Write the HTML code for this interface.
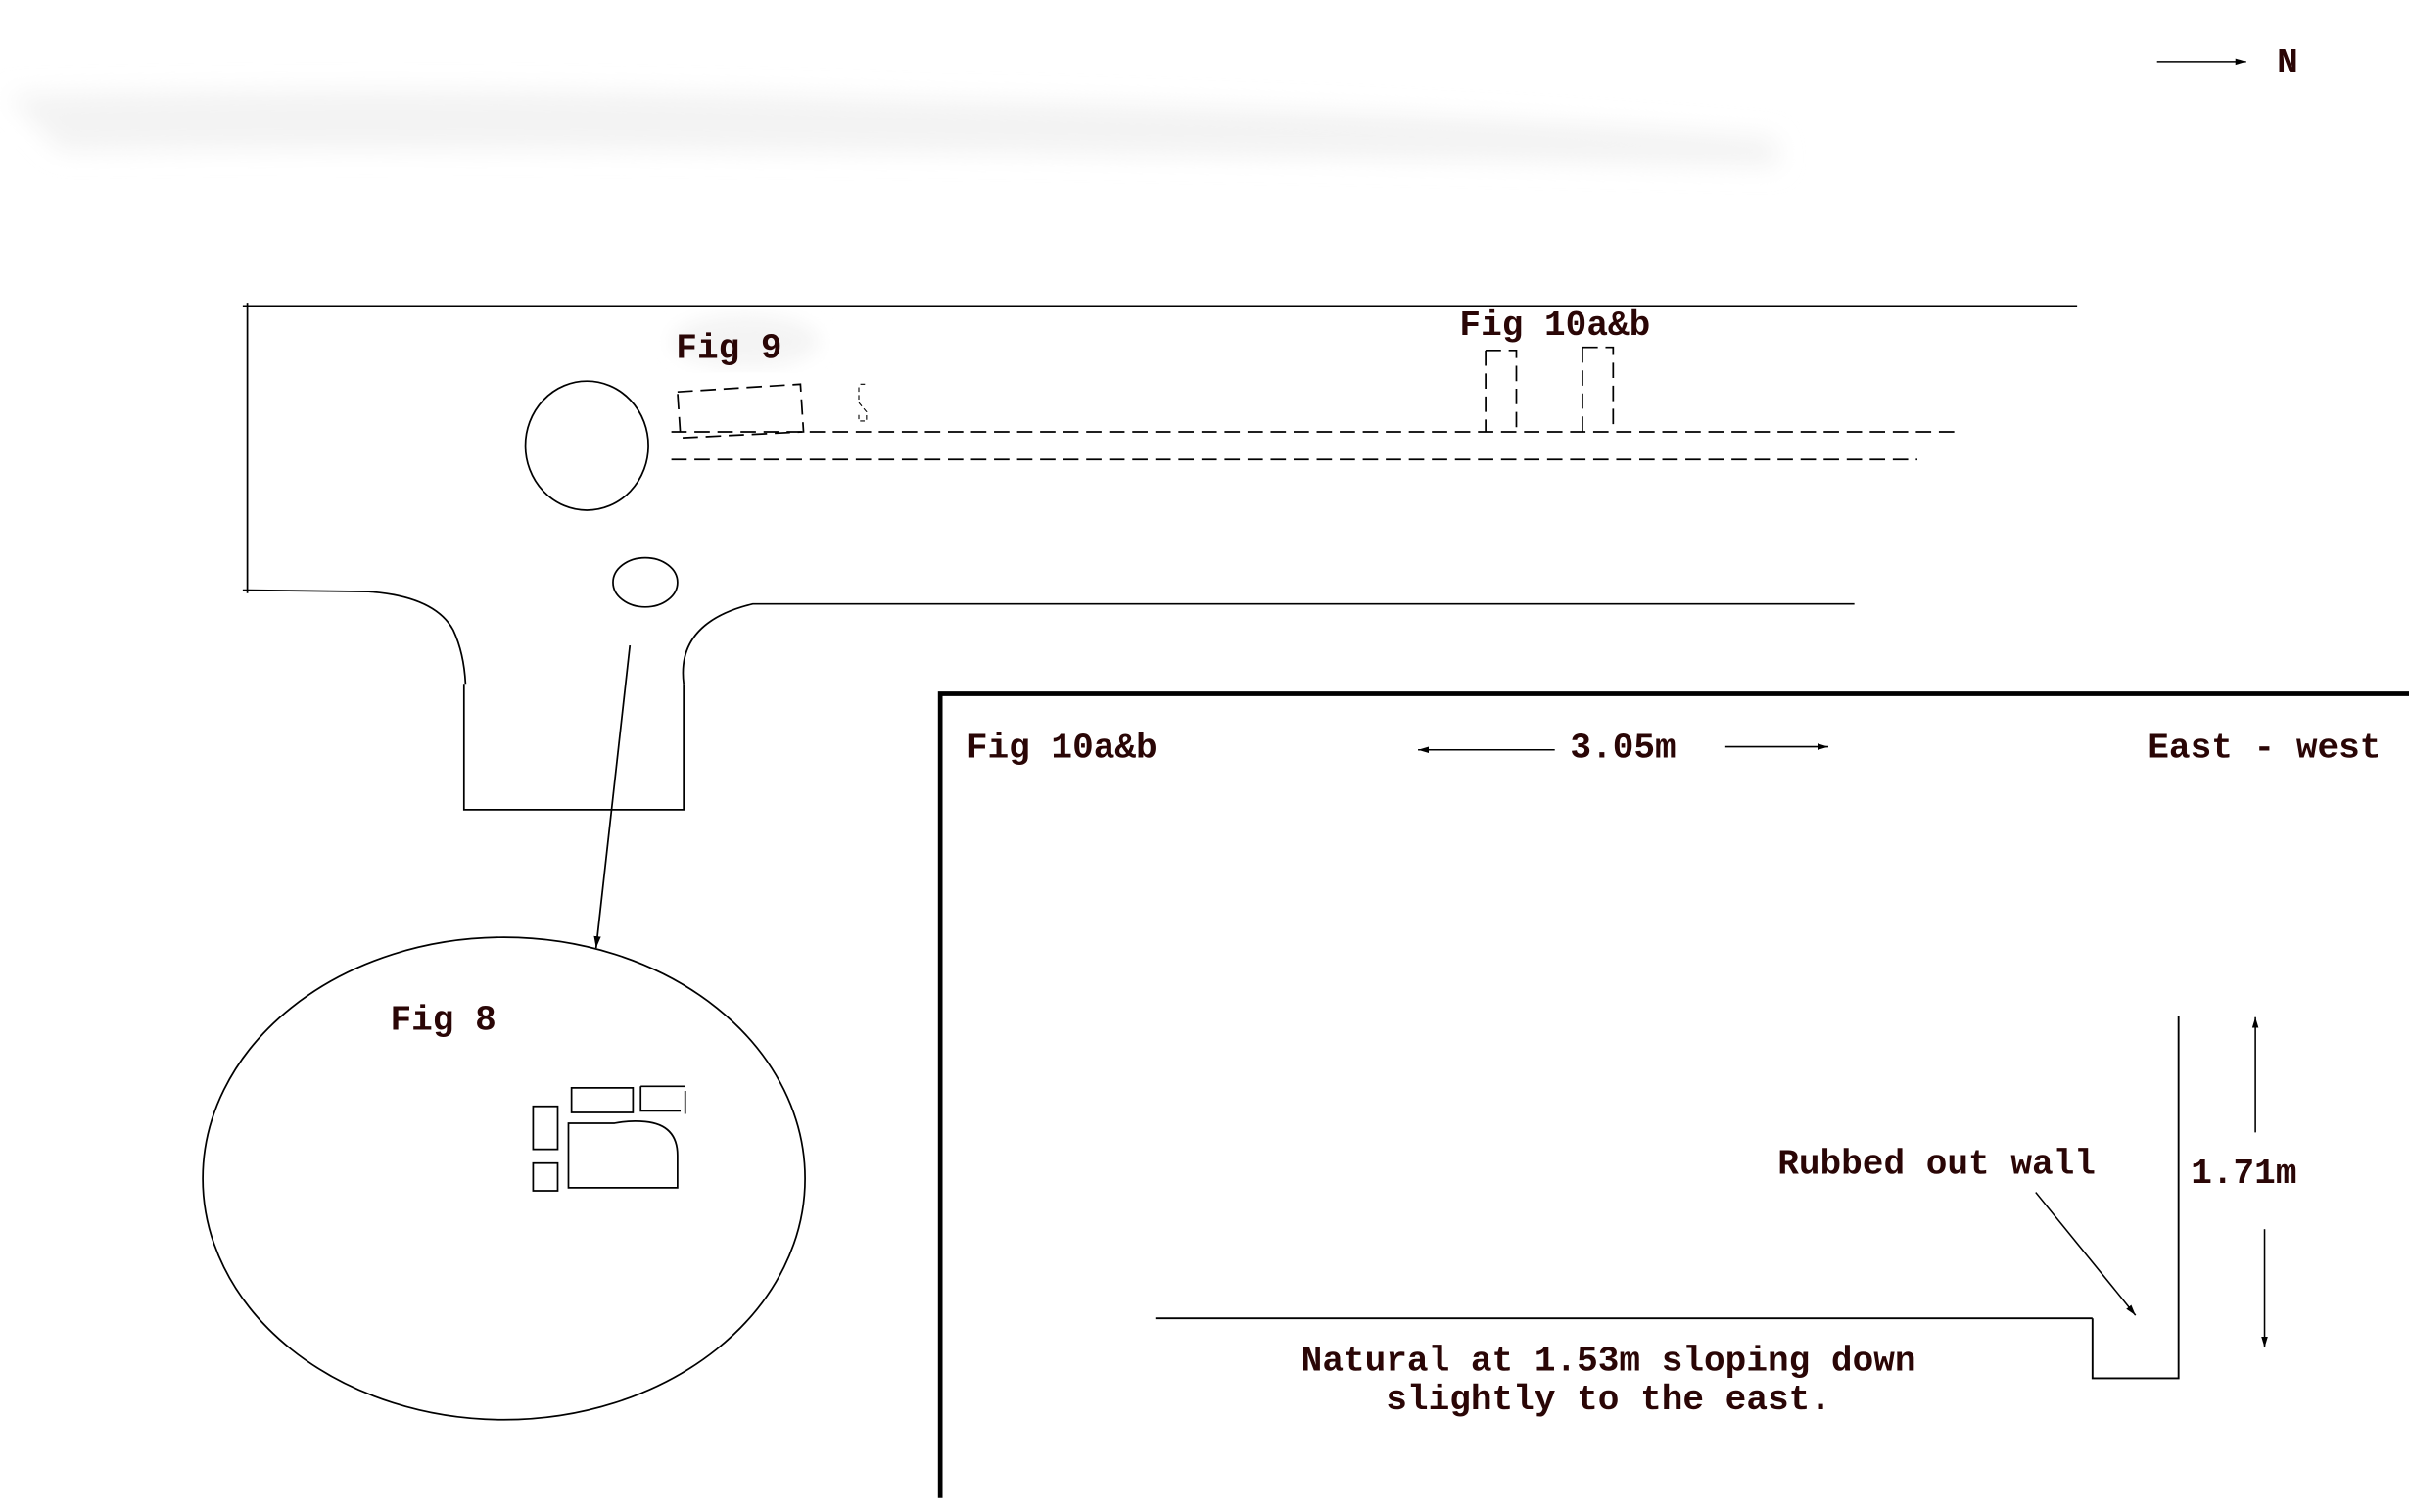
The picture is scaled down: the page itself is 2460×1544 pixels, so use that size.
<!DOCTYPE html>
<html><head><style>
html,body{margin:0;padding:0;background:#fff;}
svg{display:block;}
text{font-family:"Liberation Mono",monospace;font-weight:bold;fill:#2a0606;font-size:23px;}
</style></head><body>
<svg width="2460" height="1544" viewBox="0 0 1568 984" xmlns="http://www.w3.org/2000/svg">
<defs>
<filter id="b" x="-20%" y="-200%" width="140%" height="500%"><feGaussianBlur stdDeviation="8"/></filter>
<filter id="b2"><feGaussianBlur stdDeviation="6"/></filter>
<marker id="ah" viewBox="0 0 10 10" refX="10" refY="5" markerWidth="7" markerHeight="7" orient="auto-start-reverse"><path d="M0,2 L10,5 L0,8 z" fill="#000"/></marker>
</defs>
<path d="M5,62 Q300,55 600,65 Q900,70 1155,90 L1158,108 Q800,100 500,98 Q200,95 40,98 Z" fill="#f3f3f3" filter="url(#b)"/>
<line x1="1404" y1="40" x2="1462" y2="40" stroke="#000" stroke-width="1" marker-end="url(#ah)"/>
<text x="1482" y="47">N</text>

<g fill="none" stroke="#000" stroke-width="1.1">
<line x1="158" y1="199" x2="1352" y2="199"/>
<line x1="161" y1="197" x2="161" y2="386"/>
<path d="M158,384 L240,385 Q283,388 295,410 Q302,425 303,445"/>
<path d="M302,445 L302,527 L445,527 L445,445"/>
<path d="M445,445 Q440,405 490,393 L1207,393"/>
<ellipse cx="382" cy="290" rx="40" ry="42"/>
<ellipse cx="420" cy="379" rx="21" ry="16"/>
<line x1="410" y1="420" x2="388" y2="617" marker-end="url(#ah)"/>
<ellipse cx="328" cy="767" rx="196" ry="157"/>
<path d="M372,708 H412 V724 H372 Z"/>
<path d="M417,707 H446 M417,707 V723 H443 M446,710 V725"/>
<path d="M347,720 V748 H363 V720 Z"/>
<path d="M347,757 V775 H363 V757 Z"/>
<path d="M370,731 V773 H441 V752 Q441,732 420,730 Q410,729 400,731 Z"/>
<g stroke-dasharray="10,5">
<line x1="437" y1="281" x2="1273" y2="281"/>
<line x1="437" y1="299" x2="1248" y2="299"/>
<path d="M441,255 L521,250 L523,281 L443,285 Z"/>
<path d="M967,228 H987 V281 M967,228 V281"/>
<path d="M1030,226 H1050 V281 M1030,226 V281"/>
</g>
<path d="M560,250 h4 M559,252 v10 l5,6 v6 h-5 v-4" stroke-width="0.7" stroke-dasharray="3,2"/>
</g>
<ellipse cx="485" cy="222" rx="48" ry="17" fill="#f4f4f4" filter="url(#b2)"/>
<text x="440" y="233">Fig 9</text>
<text x="950" y="218">Fig 10a&amp;b</text>
<text x="254" y="670">Fig 8</text>

<path d="M612,975 V451.5 H1568" fill="none" stroke="#000" stroke-width="3"/>
<text x="629" y="493">Fig 10a&amp;b</text>
<text x="1022" y="493">3.05m</text>
<text x="1398" y="493">East - west</text>
<g fill="none" stroke="#000" stroke-width="1">
<line x1="1012" y1="488" x2="923" y2="488" marker-end="url(#ah)"/>
<line x1="1123" y1="486" x2="1190" y2="486" marker-end="url(#ah)"/>
<line x1="1468" y1="737" x2="1468" y2="662" marker-end="url(#ah)"/>
<line x1="1474" y1="800" x2="1474" y2="877" marker-end="url(#ah)"/>
<line x1="1325" y1="776" x2="1390" y2="856" marker-end="url(#ah)"/>
</g>
<g fill="none" stroke="#000" stroke-width="1.2">
<line x1="752" y1="858" x2="1362" y2="858"/>
<path d="M1362,858 V897 H1418 V661"/>
</g>
<text x="1157" y="764">Rubbed out wall</text>
<text x="1426" y="770">1.71m</text>
<text x="1047" y="892" text-anchor="middle">Natural at 1.53m sloping down</text>
<text x="1047" y="917" text-anchor="middle">slightly to the east.</text>
</svg>
</body></html>
